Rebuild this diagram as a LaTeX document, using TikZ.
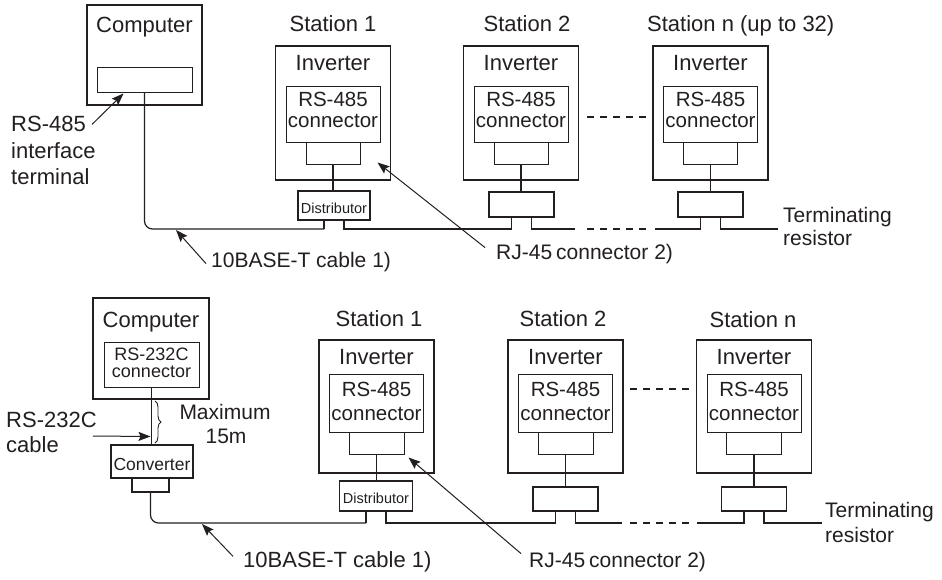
\documentclass[tikz,border=0pt]{standalone}
\usepackage{fontspec}
\setmainfont{Liberation Sans}
\usetikzlibrary{arrows.meta,calc,decorations.pathreplacing}
\definecolor{ink}{RGB}{35,31,32}
\begin{document}
\begin{tikzpicture}[x=1pt,y=-1pt,
  obox/.style={draw=ink, line width=1.9pt, inner sep=0pt},
  ibox/.style={draw=ink, line width=1pt, inner sep=0pt},
  cable/.style={draw=ink, line width=1.2pt},
  gapline/.style={draw=ink, line width=1.1pt, dash pattern=on 6.5pt off 6.5pt},
  pointer/.style={draw=ink, line width=1pt, -{Stealth[length=12pt,width=9pt,inset=2pt]}},
  lab/.style={inner sep=0pt, anchor=base, text=ink, font=\fontsize{#1}{#1}\selectfont},
  labl/.style={inner sep=0pt, anchor=base west, text=ink, font=\fontsize{#1}{#1}\selectfont},
]
\fill[white] (0,0) rectangle (942,579);
\useasboundingbox (0,0) rectangle (942,579);

% ================= TOP DIAGRAM =================
\node[obox, minimum width=115pt, minimum height=100pt] (pcA) at (144.5,55) {};
\node[lab=22] (pcAt) at (144.5,32) {Computer};
\node[ibox, minimum width=95pt, minimum height=25pt] (portA) at (144.5,79.5) {};

\node[labl=22] (rslA1) at (11,131) {RS-485};
\node[labl=22] (rslA2) at (11,158) {interface};
\node[labl=22] (rslA3) at (11,184) {terminal};
\draw[pointer] ($(rslA1.east)+(6,1)$) -- ($(portA.south west)+(27,1)$);

\node[lab=22] (stA1) at (333,31) {Station 1};
\node[lab=22] (stA2) at (527,31) {Station 2};
\node[labl=22] (stAn) at (647,31) {Station n (up to 32)};

\foreach \n/\cx in {1/333, 2/521, n/710.5} {
  \node[obox, minimum width=115pt, minimum height=134pt] (invA\n) at (\cx,113) {};
  \node[lab=22] (invAt\n) at (\cx,70) {Inverter};
  \node[ibox, minimum width=94pt, minimum height=56pt] (conA\n) at (\cx,114) {};
  \node[lab=20.5] (conAa\n) at (\cx,106) {RS-485};
  \node[lab=20.5] (conAb\n) at (\cx,127) {connector};
  \node[ibox, minimum width=54pt, minimum height=22pt] (jackA\n) at (\cx,153) {};
}
\node[obox, minimum width=72pt, minimum height=29pt] (distA1) at (334,205.5) {};
\node[lab=14.5] (distAt1) at (334,213) {Distributor};
\node[obox, minimum width=65pt, minimum height=25pt] (distA2) at (521.5,204.5) {};
\node[obox, minimum width=65pt, minimum height=25pt] (distAn) at (710.5,204.5) {};

\foreach \n in {1,2,n} {
  \draw[cable] (jackA\n.south) -- (jackA\n.south |- distA\n.north);
  \coordinate (aL\n) at ($(distA\n.south)+(-10,0)$);
  \coordinate (aR\n) at ($(distA\n.south)+(10,0)$);
}
\coordinate (busA) at (0,229);
\draw[cable, rounded corners=8pt] (portA.south) |- (aL1 |- busA);
\draw[cable] (aL1 |- busA) -- (aL1);
\draw[cable] (aR1) -- (aR1 |- busA) -- (aL2 |- busA) -- (aL2);
\draw[cable] (aR2) -- (aR2 |- busA) -- (575,229);
\draw[gapline] (587,229) -- (646,229);
\draw[cable] (655,229) -- (aLn |- busA) -- (aLn);
\draw[cable] (aRn) -- (aRn |- busA) -- (778,229);
\draw[gapline] (587,117) -- (646,117);

\node[labl=21] (termA1) at (783,222) {Terminating};
\node[labl=21] (termA2) at (783,245) {resistor};

\node[labl=21] (cabA) at (211,267) {10BASE-T cable 1)};
\draw[pointer] ($(cabA.west)+(-5,2)$) -- (176,230);
\node[labl=21] (rjA) at (496,259) {RJ-45\kern4pt connector 2)};
\draw[pointer] ($(rjA.west)+(-11,-6)$) -- ($(jackA1.south east)+(17,-2)$);

% ================= BOTTOM DIAGRAM =================
\node[obox, minimum width=116pt, minimum height=101pt] (pcB) at (151,348.5) {};
\node[lab=22] (pcBt) at (151,327) {Computer};
\node[ibox, minimum width=95pt, minimum height=45pt] (portB) at (151.5,364.5) {};
\node[lab=18] (portBa) at (151.5,360) {RS-232C};
\node[lab=18] (portBb) at (151.5,377) {connector};
\node[obox, minimum width=82pt, minimum height=33pt] (conv) at (152,461.5) {};
\node[lab=17.5] (convt) at (152,470) {Converter};
\node[obox, minimum width=37pt, minimum height=14pt] (convjack) at (150.5,485) {};
\draw[cable] (portB.south) -- (portB.south |- conv.north);

\draw[draw=ink, line width=0.9pt, decorate, decoration={brace, amplitude=6pt}] (155,401) -- (155,443);
\node[lab=21] (maxa) at (225,419) {Maximum};
\node[lab=21] (maxb) at (226,443) {15m};

\node[labl=22] (rs2l1) at (6,427) {RS-232C};
\node[labl=22] (rs2l2) at (6,452) {cable};
\draw[pointer] ($(rs2l1.base east)+(-4,9)$) -- ($(portB.south)+(-1,49)$);

\node[lab=22] (stB1) at (379,326) {Station 1};
\node[lab=22] (stB2) at (563,326) {Station 2};
\node[lab=22] (stBn) at (753,327) {Station n};

\foreach \n/\cx in {1/376.5, 2/565.5, n/754} {
  \node[obox, minimum width=115pt, minimum height=133pt] (invB\n) at (\cx,406.5) {};
  \node[lab=22] (invBt\n) at (\cx,364) {Inverter};
  \node[ibox, minimum width=94pt, minimum height=58pt] (conB\n) at (\cx,403) {};
  \node[lab=20.5] (conBa\n) at (\cx,396) {RS-485};
  \node[lab=20.5] (conBb\n) at (\cx,420) {connector};
  \node[ibox, minimum width=55pt, minimum height=22pt] (jackB\n) at (\cx,443) {};
}
\node[obox, minimum width=73pt, minimum height=30pt] (distB1) at (376,496) {};
\node[lab=14.5] (distBt1) at (376,503) {Distributor};
\node[obox, minimum width=65pt, minimum height=24pt] (distB2) at (565.5,499) {};
\node[obox, minimum width=65pt, minimum height=24pt] (distBn) at (754,499) {};

\foreach \n in {1,2,n} {
  \draw[cable] (jackB\n.south) -- (jackB\n.south |- distB\n.north);
  \coordinate (bL\n) at ($(distB\n.south)+(-10,0)$);
  \coordinate (bR\n) at ($(distB\n.south)+(10,0)$);
}
\coordinate (busB) at (0,523);
\draw[cable, rounded corners=8pt] (convjack.south) |- (bL1 |- busB);
\draw[cable] (bL1 |- busB) -- (bL1);
\draw[cable] (bR1) -- (bR1 |- busB) -- (bL2 |- busB) -- (bL2);
\draw[cable] (bR2) -- (bR2 |- busB) -- (622,523);
\draw[gapline] (630,523) -- (690,523);
\draw[cable] (697,523) -- (bLn |- busB) -- (bLn);
\draw[cable] (bRn) -- (bRn |- busB) -- (822,523);
\draw[gapline] (630,389) -- (690,389);

\node[labl=21] (termB1) at (825,517) {Terminating};
\node[labl=21] (termB2) at (825,542) {resistor};

\node[labl=22] (cabB) at (243,567) {10BASE-T cable 1)};
\draw[pointer] ($(cabB.west)+(-10,-5)$) -- (202,524);
\node[labl=21] (rjB) at (529,567) {RJ-45\kern4pt connector 2)};
\draw[pointer] ($(rjB.west)+(-8,-8)$) -- ($(jackB1.south east)+(4,3)$);
\end{tikzpicture}
\end{document}
